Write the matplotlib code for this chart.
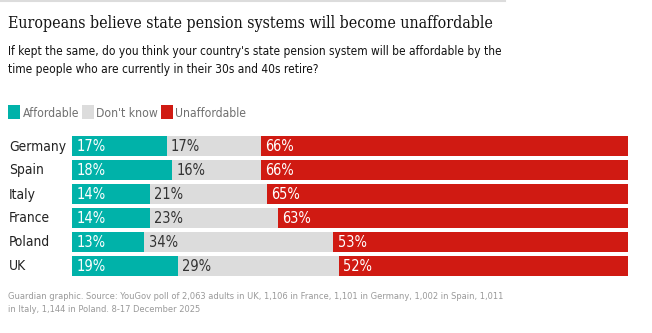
import matplotlib
matplotlib.use("Agg")
import matplotlib.pyplot as plt
from matplotlib import font_manager as fm
from matplotlib.lines import Line2D
from matplotlib.patches import Rectangle

countries = ["Germany", "Spain", "Italy", "France", "Poland", "UK"]
affordable = [17, 18, 14, 14, 13, 19]
dont_know = [17, 16, 21, 23, 34, 29]
unaffordable = [66, 66, 65, 63, 53, 52]

series_names = ["Affordable", "Don't know", "Unaffordable"]
colors = ["#00b2a9", "#dcdcdc", "#d01a12"]
label_colors = ["white", "#333333", "white"]

title = "Europeans believe state pension systems will become unaffordable"
subtitle = ("If kept the same, do you think your country's state pension system will be affordable by the\n"
            "time people who are currently in their 30s and 40s retire?")
source = ("Guardian graphic. Source: YouGov poll of 2,063 adults in UK, 1,106 in France, 1,101 in Germany, 1,002 in Spain, 1,011\n"
          "in Italy, 1,144 in Poland. 8-17 December 2025")

W, H = 652, 333


def condensed(family, weight):
    for f in fm.fontManager.ttflist:
        if f.name == family and f.stretch == "condensed" and f.weight == weight and f.style == "normal":
            return fm.FontProperties(fname=f.fname)
    return fm.FontProperties(family=family, weight=weight)


SANS = dict(fontproperties=condensed("DejaVu Sans", 400))
SERIF = dict(fontproperties=condensed("DejaVu Serif", 400))

fig = plt.figure(figsize=(W / 100, H / 100), dpi=100)
fig.patch.set_facecolor("white")


def px(x, y):
    return x / W, 1 - y / H


def fit(t, target, others=()):
    # scale a text's font size so its drawn width matches the reference
    r = fig.canvas.get_renderer()
    w = t.get_window_extent(r).width
    size = t.get_fontsize() * target / w
    for o in (t, *others):
        o.set_fontsize(size)


# bars area: x 72..628, rows 134..278
ax = fig.add_axes([72 / W, 1 - 278 / H, 556 / W, 144 / H])
ax.set_xlim(0, 100)
ax.set_ylim(len(countries) - 0.5, -0.5)
ax.axis("off")

ypos = list(range(len(countries)))
left = [0] * len(countries)
value_texts = []
for vals, col, lcol in zip([affordable, dont_know, unaffordable], colors, label_colors):
    ax.barh(ypos, vals, left=left, height=20 / 24, color=col, linewidth=0)
    for y, l, v in zip(ypos, left, vals):
        value_texts.append(ax.text(l + 0.8, y + 0.04, f"{v}%", color=lcol,
                                   va="center", ha="left", **SANS))
    left = [a + b for a, b in zip(left, vals)]

country_texts = []
for y, name in zip(ypos, countries):
    yy = 134 + 24 * y + 12.5
    country_texts.append(fig.text(*px(9, yy), name, color="#222222",
                                  va="center", ha="left", **SANS))

# top rule
fig.add_artist(Line2D([0, 505 / W], [1 - 1 / H, 1 - 1 / H], color="#dcdcdc", linewidth=1.5))

t_title = fig.text(*px(8, 28.5), title, color="#121212", va="baseline", ha="left", **SERIF)
t_sub1, t_sub2 = [fig.text(*px(8, yb), line, color="#121212", va="baseline", ha="left", **SANS)
                  for yb, line in zip([55.5, 73], subtitle.split("\n"))]

# legend
lx = [8, 82, 161]
legend_texts = []
for x, name, col in zip(lx, series_names, colors):
    fig.add_artist(Rectangle(px(x, 119), 12 / W, 14 / H, color=col, linewidth=0))
    legend_texts.append(fig.text(*px(x + 14.5, 117), name, color="#707070",
                                 va="baseline", ha="left", **SANS))

t_src1, t_src2 = [fig.text(*px(8, yb), line, color="#999999", va="baseline", ha="left", **SANS)
                  for yb, line in zip([299, 312], source.split("\n"))]

fit(t_title, 485)
fit(t_sub1, 492, [t_sub2])
fit(t_src1, 498, [t_src2])
fit(legend_texts[0], 56, legend_texts[1:])
fit(country_texts[0], 57, country_texts[1:])
fit(value_texts[0], 29, value_texts[1:])

fig.savefig("out.png", dpi=100, facecolor="white")
